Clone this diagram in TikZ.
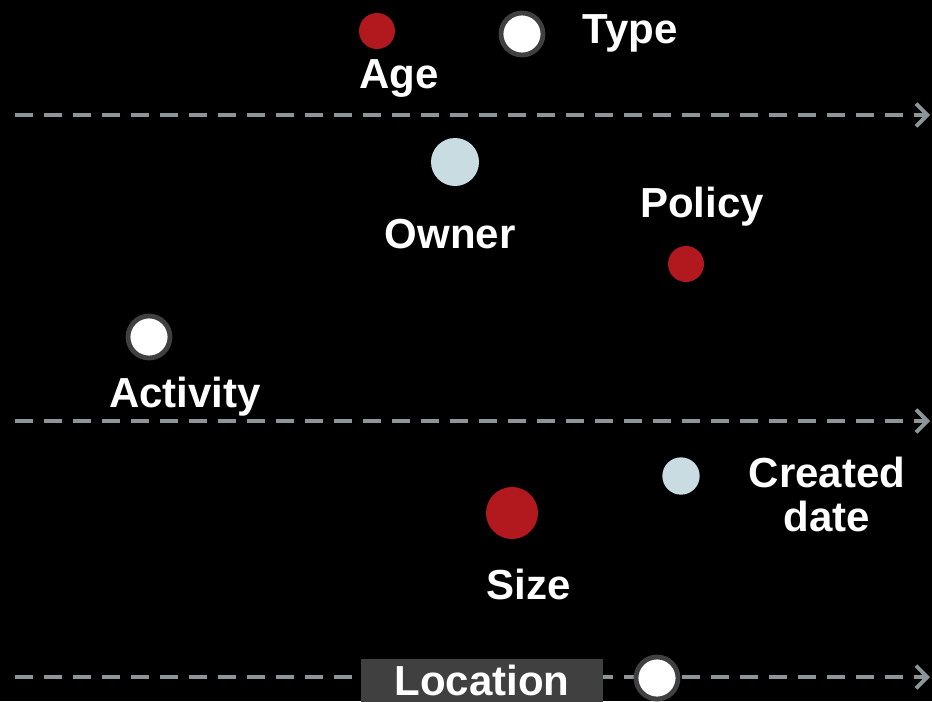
\documentclass[tikz,border=0pt]{standalone}
\usepackage{fontspec}
\setmainfont{Liberation Sans}
\usetikzlibrary{arrows.meta}
\definecolor{dotred}{HTML}{B2191E}
\definecolor{dotblue}{HTML}{C8DCE2}
\definecolor{ringgray}{HTML}{404040}
\definecolor{axisgray}{HTML}{8C9598}
\begin{document}
\begin{tikzpicture}[x=0.75pt,y=-0.75pt,
  lbl/.style={text=white,font=\bfseries\fontsize{31.5}{38}\selectfont,anchor=base,inner sep=0pt},
  reddot/.style={circle,fill=dotred,inner sep=0pt,minimum size=#1},
  bluedot/.style={circle,fill=dotblue,inner sep=0pt,minimum size=#1},
  ringdot/.style={circle,fill=white,draw=ringgray,line width=3.6pt,inner sep=0pt,minimum size=31.5pt},
  axisline/.style={draw=axisgray,line width=3pt,dash pattern=on 13.5pt off 8.25pt,
     -{Straight Barb[length=8.5pt,width=17pt,line width=2.8pt]}}]
\fill[black] (0,0) rectangle (932,701);
\useasboundingbox (0,0) rectangle (932,701);
% axes
\coordinate (a1s) at (15,115); \coordinate (a1e) at (930,115);
\coordinate (a2s) at (15,421); \coordinate (a2e) at (930,421);
\coordinate (a3s) at (15,677); \coordinate (a3e) at (930,677);
\draw[axisline] (a1s) -- (a1e);
\draw[axisline] (a2s) -- (a2e);
\draw[axisline] (a3s) -- (a3e);
% location box
\node[fill=ringgray,minimum width=181.5pt,minimum height=36pt,anchor=north west,inner sep=0pt] (locbox) at (361,659) {};
\node[lbl] (location) at (482,695) {Location};
\node[ringdot] (locdot) at (657,678) {};
% top band
\node[reddot=27pt] (agedot) at (377,31) {};
\node[lbl] (age) at (399,88) {Age};
\node[ringdot] (typedot) at (522,34) {};
\node[lbl] (type) at (630,43) {Type};
% middle band
\node[bluedot=36pt] (ownerdot) at (455,162) {};
\node[lbl] (owner) at (450,248) {Owner};
\node[lbl] (policy) at (702,217) {Policy};
\node[reddot=27pt] (policydot) at (686,264) {};
\node[ringdot] (actdot) at (149,337) {};
\node[lbl] (activity) at (185,407) {Activity};
% lower band
\node[bluedot=28pt] (createddot) at (681,476) {};
\node[lbl] (created) at (827,487) {Created};
\node[lbl] (date) at (827,531) {date};
\node[reddot=39pt] (sizedot) at (512,513) {};
\node[lbl] (size) at (529,599) {Size};
\end{tikzpicture}
\end{document}
